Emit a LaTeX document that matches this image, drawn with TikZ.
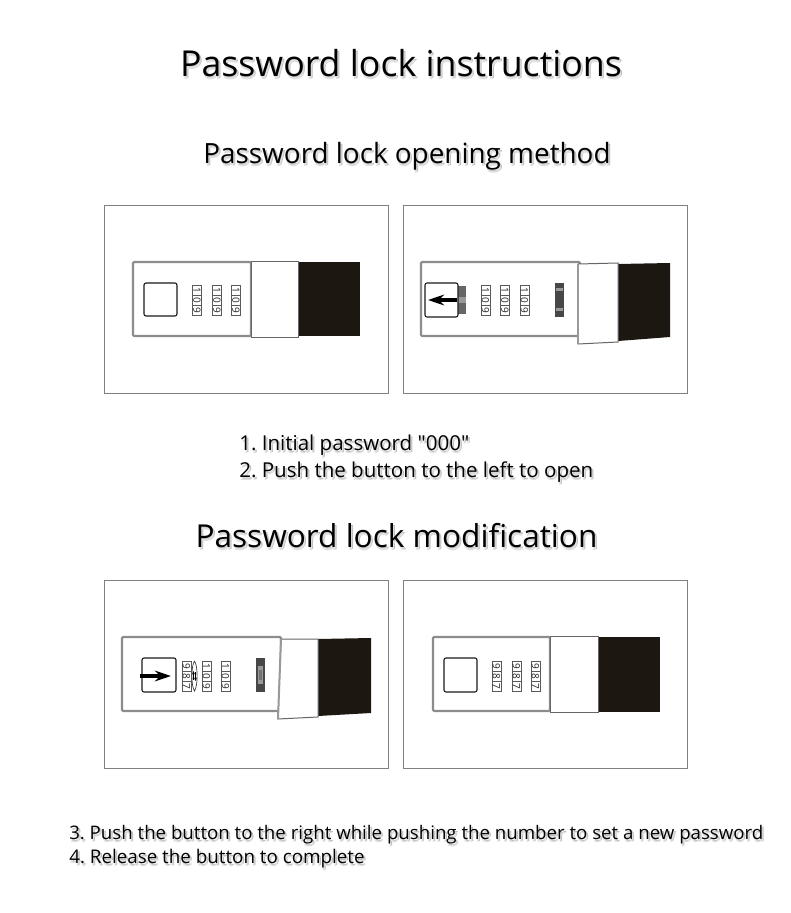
\documentclass[tikz,border=0pt]{standalone}
\usepackage{fontspec}
\setmainfont{Open Sans}
\newfontfamily\rawquote{Open Sans}[Ligatures=NoCommon]
\usetikzlibrary{arrows.meta}
\definecolor{strapblack}{HTML}{1C1710}
\tikzset{
  panelbox/.style={draw=black!50, line width=0.75pt, fill=white},
  lockbody/.style={draw=black!45, line width=1.6pt, rounded corners=0.8pt, fill=white},
  sliderbox/.style={draw=black!60, line width=0.75pt, fill=white},
  slideredge/.style={draw=black!40, line width=1.5pt},
  strapbox/.style={fill=strapblack},
  keybox/.style={draw=black!90, line width=0.8pt, rounded corners=1.5pt, fill=white},
  wheelbox/.style={draw=black!65, line width=0.5pt, fill=white},
  digit/.style={rotate=-90, inner sep=0pt, text=black!85, font=\fontsize{7.5}{7.5}\selectfont},
  pusharrow/.style={line width=2.4pt, -{Stealth[length=12pt, width=8pt]}},
  darkblock/.style={fill=black!72},
  paleblock/.style={fill=black!40},
}
\newcommand{\shadowtext}[5]{%
  \node[anchor=#3, inner sep=0pt, text=black!25, font=#4] (#1s) at ([shift={(2,2)}]#2) {#5};
  \node[anchor=#3, inner sep=0pt, text=black!12, font=#4] (#1t) at ([shift={(1,3)}]#2) {#5};
  \node[anchor=#3, inner sep=0pt, text=black, font=#4] (#1) at (#2) {#5};
}
\frenchspacing
\begin{document}
\begin{tikzpicture}[x=0.75pt, y=-0.75pt, >=Stealth]
  \useasboundingbox (0,0) rectangle (790,913);
  \fill[white] (0,0) rectangle (790,913);

  \shadowtext{title}{401,63}{center}{\fontsize{26.8}{30}\selectfont}{Password lock instructions}
  \shadowtext{openhead}{407,156}{center}{\fontsize{20.9}{26}\selectfont}{Password lock opening method}
  \shadowtext{modhead}{396.5,536}{center}{\fontsize{23.7}{28}\selectfont}{Password lock modification}
  \shadowtext{stepone}{239,445}{west}{\fontsize{15.4}{18}\selectfont}{1. Initial password {\rawquote\symbol{34}}000{\rawquote\symbol{34}}}
  \shadowtext{steptwo}{239,472}{west}{\fontsize{15.4}{18}\selectfont}{2. Push the button to the left to open}
  \shadowtext{stepthree}{69,835}{west}{\fontsize{14}{18}\selectfont}{3. Push the button to the right while pushing the number to set a new password}
  \shadowtext{stepfour}{69,859}{west}{\fontsize{14.1}{18}\selectfont}{4. Release the button to complete}

  \foreach \px/\py in {104.5/205, 403.5/205, 104.5/580, 403.5/580}
    \draw[panelbox] (\px,\py) rectangle ++(283.5,188);

  % first panel
  \draw[lockbody] (133,262) rectangle (251,336);
  \fill[strapbox] (298,262) rectangle (360,336);
  \draw[sliderbox] (251,261) rectangle (298,337);
  \draw[keybox] (144,283) rectangle (177,316);

  % second panel
  \draw[lockbody] (421,262) rectangle (580,336);
  \fill[strapbox] (618,264) -- (670,263) -- (670,337) -- (618,341) -- cycle;
  \draw[sliderbox] (578,264) -- (618,263) -- (618,342) -- (578,344) -- cycle;
  \draw[slideredge] (578,264) -- (578,344);
  \fill[black!60] (458,286) rectangle (466,314);
  \fill[paleblock] (458,297) rectangle (466,303);
  \draw[keybox] (425,283) rectangle (458,317);
  \draw[pusharrow] (457,300) -- (428,300);
  \fill[darkblock] (555,283) rectangle (564,317);
  \fill[paleblock] (556,288) rectangle (563,291);
  \fill[paleblock] (556,308) rectangle (563,311);

  % third panel
  \draw[lockbody] (122,637) rectangle (281,711);
  \fill[strapbox] (318,639) -- (371,638) -- (371,713) -- (318,716) -- cycle;
  \draw[sliderbox] (281,639) -- (318,639) -- (318,717) -- (278,719) -- cycle;
  \draw[slideredge] (281,639) -- (278,719);
  \draw[keybox] (142,658) rectangle (176,692);
  \draw[pusharrow] (140,676) -- (171,676);
  \draw[black!80, line width=0.5pt] (194.5,661) .. controls (191,666) and (191,686) .. (194.5,691) .. controls (198,686) and (198,666) .. (194.5,661);
  \draw[line width=0.4pt, -{Stealth[length=2.5pt, width=2pt]}] (193.5,680) -- (193.5,671);
  \draw[line width=0.4pt, -{Stealth[length=2.5pt, width=2pt]}] (195.5,672) -- (195.5,681);
  \fill[darkblock] (256,658) rectangle (265,692);
  \fill[paleblock] (258,666) rectangle (263,684);
  \fill[black!55] (259,670) rectangle (262,680);

  % fourth panel
  \draw[lockbody] (433,637) rectangle (550,711);
  \fill[strapbox] (598,637) rectangle (660,712);
  \draw[sliderbox] (550,636) rectangle (598,712);
  \draw[keybox] (444,658) rectangle (477,692);

  \foreach \wn/\wx/\wy/\da/\db/\dc in {
      a/197/285/1/0/9, b/217/285/1/0/9, c/236/285/1/0/9,
      d/485.5/285/1/0/9, e/505/285/1/0/9, f/524.5/285/1/0/9,
      g/186.5/661/9/8/7, h/206.5/661/1/0/9, i/225.5/661/1/0/9,
      j/496.5/661/9/8/7, k/516.5/661/9/8/7, l/535.5/661/9/8/7} {
    \draw[wheelbox] (\wx-4.5,\wy) rectangle (\wx+4.5,\wy+30);
    \draw[wheelbox] (\wx-4.5,\wy+10) -- (\wx+4.5,\wy+10) (\wx-4.5,\wy+20) -- (\wx+4.5,\wy+20);
    \node[digit] (\wn top) at (\wx,\wy+5) {\da};
    \node[digit] (\wn mid) at (\wx,\wy+15) {\db};
    \node[digit] (\wn low) at (\wx,\wy+25) {\dc};
  }
\end{tikzpicture}
\end{document}
